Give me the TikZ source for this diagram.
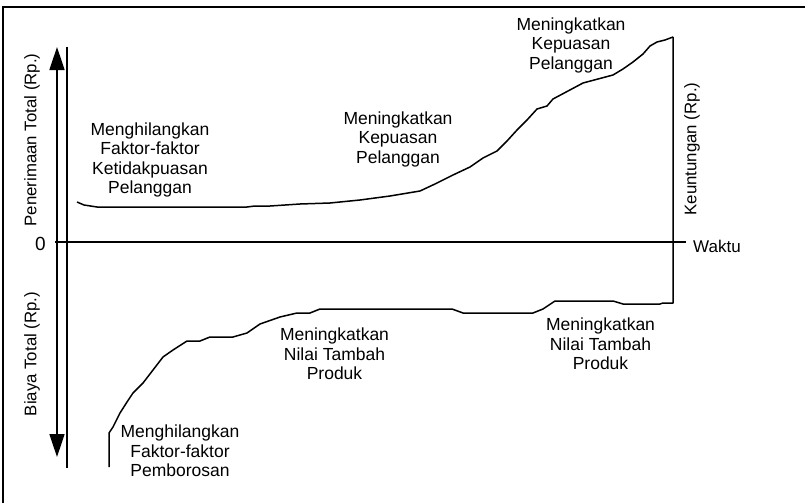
\documentclass[tikz,border=0pt]{standalone}
\usepackage{fontspec}
\setmainfont{Liberation Sans}
\usetikzlibrary{arrows.meta}
\begin{document}
\begin{tikzpicture}[x=1pt,y=-1pt,
  axisline/.style={line width=1.5pt},
  curve/.style={line width=1.5pt,line join=round},
  note/.style={align=center,font=\fontsize{17.5}{19.5}\selectfont,inner sep=0pt},
  axlabel/.style={font=\fontsize{17}{19}\selectfont,inner sep=0pt},
  sidelabel/.style={font=\fontsize{16.8}{19}\selectfont,inner sep=0pt,rotate=90}]
\useasboundingbox (0,0) rectangle (805,503);
% frame
\draw[line width=1.2pt] (3,503) -- (3,7) -- (805,7);

% axes
\coordinate (ytop) at (67,47);
\coordinate (ybot) at (67,468);
\coordinate (xleft) at (55,242);
\coordinate (xright) at (686,242);
\draw[axisline] (ytop) -- (ybot);
\draw[axisline] (xleft) -- (xright);
\coordinate (atop) at (57,47);
\coordinate (abot) at (57,457);
\draw[line width=1.5pt,{Triangle[length=23pt,width=15pt]}-{Triangle[length=23pt,width=15pt]}] (atop) -- (abot);

% axis labels
\node[font=\fontsize{19}{21}\selectfont,inner sep=0pt] (zero) at (40.5,244) {0};
\node[axlabel,anchor=west] (waktu) at (693,246) {Waktu};
\node[sidelabel] (revenue) at (32,140) {Penerimaan Total (Rp.)};
\node[sidelabel] (cost) at (32,354) {Biaya Total (Rp.)};
\node[sidelabel] (profit) at (692,149) {Keuntungan (Rp.)};

% revenue curve
\draw[curve] (77,202) -- (84,205) -- (97,207) -- (247,207) -- (255,206) -- (270,206)
  -- (300,204) -- (330,203) -- (360,200) -- (390,196) -- (420,191) -- (435,184)
  -- (453,175) -- (470,167) -- (483,158) -- (497,151) -- (507,141) -- (517,130)
  -- (527,120) -- (537,109) -- (547,106) -- (553,99) -- (568,91) -- (583,83)
  -- (598,79) -- (613,75) -- (623,69) -- (633,62) -- (643,54) -- (650,46)
  -- (657,42) -- (665,40) -- (673,37);

% cost curve, closed to the revenue curve by the profit line
\draw[curve] (109,467) -- (109,433) -- (113,427) -- (120,413) -- (127,402) -- (133,393)
  -- (143,383) -- (153,370) -- (163,357) -- (173,350) -- (187,341) -- (200,341)
  -- (210,337) -- (233,337) -- (247,333) -- (260,324) -- (280,317) -- (297,313)
  -- (310,313) -- (320,309) -- (452,309) -- (463,313) -- (533,313) -- (543,309)
  -- (555,301) -- (613,301) -- (623,304) -- (660,304) -- (663,303) -- (673,303)
  -- (673,37);

% annotations
\node[note] (n1) at (150,160) {Menghilangkan\\Faktor-faktor\\Ketidakpuasan\\Pelanggan};
\node[note] (n2) at (398,139) {Meningkatkan\\Kepuasan\\Pelanggan};
\node[note] (n3) at (571,45) {Meningkatkan\\Kepuasan\\Pelanggan};
\node[note] (n4) at (334.5,354) {Meningkatkan\\Nilai Tambah\\Produk};
\node[note] (n5) at (600.5,344) {Meningkatkan\\Nilai Tambah\\Produk};
\node[note] (n6) at (180,451) {Menghilangkan\\Faktor-faktor\\Pemborosan};
\end{tikzpicture}
\end{document}
